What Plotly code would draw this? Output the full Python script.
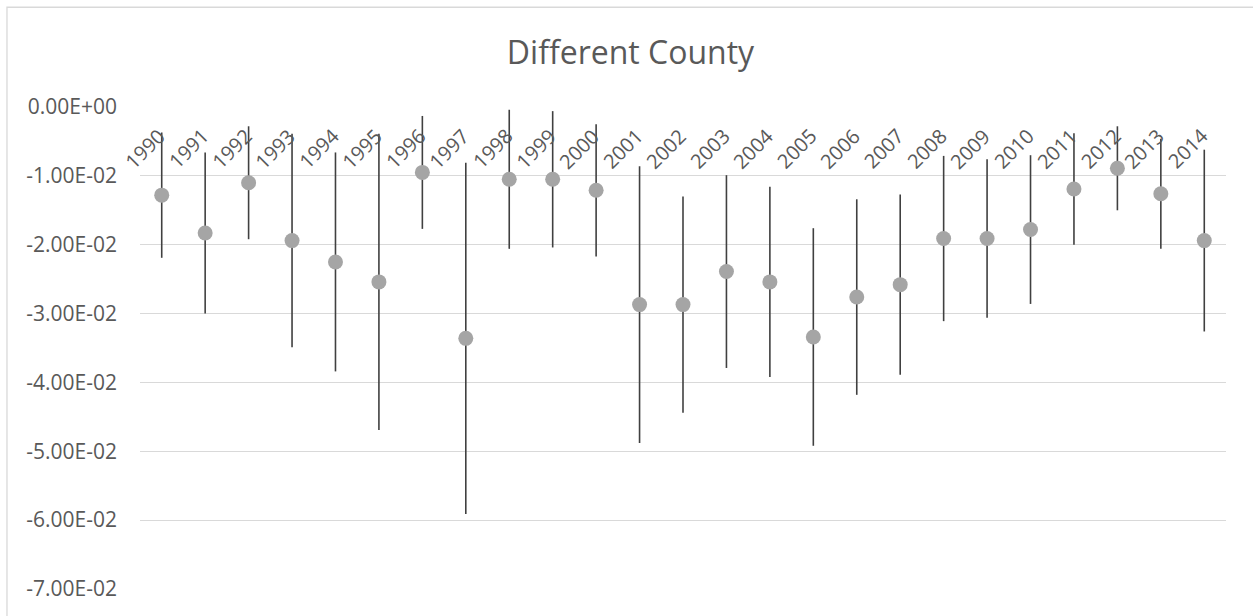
import plotly.graph_objects as go

years = [str(y) for y in range(1990, 2015)]
estimates = [-0.0128, -0.0183, -0.0110, -0.0194, -0.0225, -0.0254, -0.0095, -0.0336,
             -0.0105, -0.0105, -0.0121, -0.0287, -0.0287, -0.0239, -0.0254, -0.0334,
             -0.0276, -0.0258, -0.0191, -0.0191, -0.0178, -0.0119, -0.0089, -0.0126,
             -0.0194]
errors = [0.0091, 0.0117, 0.0082, 0.0155, 0.0159, 0.0215, 0.0082, 0.0255,
          0.0101, 0.0099, 0.0096, 0.0201, 0.0157, 0.0140, 0.0138, 0.0158,
          0.0142, 0.0131, 0.0120, 0.0115, 0.0108, 0.0081, 0.0061, 0.0080,
          0.0132]
tick_vals = [0, -0.01, -0.02, -0.03, -0.04, -0.05, -0.06, -0.07]
tick_text = ["0.00E+00", "-1.00E-02", "-2.00E-02", "-3.00E-02", "-4.00E-02",
             "-5.00E-02", "-6.00E-02", "-7.00E-02"]
title_text = "Different County"

FONT = "Open Sans"
TXT = "#595959"

fig = go.Figure()
fig.add_trace(go.Scatter(
    x=years, y=estimates, mode="markers",
    marker=dict(color="#a5a5a5", size=15),
    error_y=dict(type="data", array=errors, visible=True, color="#404040",
                 thickness=1.6, width=0),
    showlegend=False, hoverinfo="x+y",
))

# category labels sit just under the zero line (category index positions)
for i, yr in enumerate(years):
    fig.add_annotation(x=i, y=0, xref="x", yref="y", text=yr, showarrow=False,
                       textangle=-45, xanchor="right", yanchor="top",
                       xshift=12, yshift=-13,
                       font=dict(family=FONT, size=20, color=TXT))

# chart frame
fig.add_shape(type="rect", xref="paper", yref="paper",
              x0=-0.1225, x1=1.05, y0=-0.1, y1=1.207,
              line=dict(color="#d9d9d9", width=1.3), fillcolor="rgba(0,0,0,0)",
              layer="below")

fig.update_layout(
    width=1253, height=616,
    margin=dict(l=140, r=27, t=107, b=27),
    paper_bgcolor="white", plot_bgcolor="white",
    title=dict(text=title_text, x=0.5032, xref="container", xanchor="center",
               y=0.915, yref="container", yanchor="middle",
               font=dict(family=FONT, size=32, color=TXT)),
    xaxis=dict(type="category", showticklabels=False, showgrid=False,
               zeroline=False, showline=False, ticks="",
               range=[-0.5, len(years) - 0.5]),
    yaxis=dict(range=[-0.07, 0], tickvals=tick_vals, ticktext=tick_text,
               showgrid=True, gridcolor="#d9d9d9", gridwidth=1.3,
               zeroline=False, showline=False, ticks="",
               ticklabelstandoff=22,
               tickfont=dict(family=FONT, size=21, color=TXT)),
    font=dict(family=FONT, color=TXT),
)

fig.write_html("out.html", config={"displayModeBar": False},
               post_script="document.body.style.margin='0';document.body.style.padding='0';")
